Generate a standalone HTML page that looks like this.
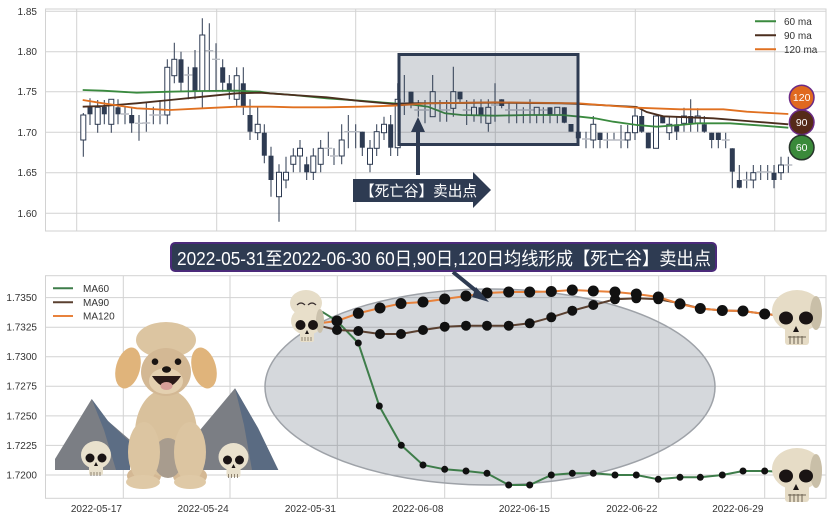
<!DOCTYPE html>
<html><head><meta charset="utf-8"><style>
html,body{margin:0;padding:0;background:#fff;}
svg{display:block;font-family:"Liberation Sans","Noto Sans CJK SC",sans-serif;}
.g{stroke:#d2d2d2;stroke-width:1;fill:none}
.w{stroke:#2e3b52;stroke-width:1;fill:none}
.f{fill:#2e3b52}
.h{fill:#fff;stroke:#2e3b52;stroke-width:1}
.d{stroke:#b8bcc3;stroke-width:1.4}
.t{font-size:10px;fill:#333}
</style></head><body>
<svg width="833" height="521" viewBox="0 0 833 521" xmlns="http://www.w3.org/2000/svg">
<rect width="833" height="521" fill="#fff"/>
<!-- ===== TOP PANEL ===== -->
<g class="g">
<path d="M45.5 11.3H826M45.5 51.7H826M45.5 91.7H826M45.5 132.3H826M45.5 172.7H826M45.5 213.3H826"/>
<path d="M76.7 9V231M216.7 9V231M355.7 9V231M495.3 9V231M635.3 9V231M774.7 9V231"/>
<rect x="45.5" y="9" width="780.5" height="222"/>
</g>
<g class="t" text-anchor="end">
<text x="37" y="14.8">1.85</text><text x="37" y="55.2">1.80</text><text x="37" y="95.2">1.75</text>
<text x="37" y="135.8">1.70</text><text x="37" y="176.2">1.65</text><text x="37" y="216.8">1.60</text>
</g>
<!-- wicks -->
<path class="w" d="M83.3 113V156.7M90 98.3V125M97.7 100V132.7M104.3 100V124.3M111.3 99.3V132.7M118 99.3V124.3M125 106.7V124.3M131.7 108.3V132.7M139 115V140.7M146.3 103V131.7M153.3 106.7V124.3M160 100V124.3M167.3 59.3V124.3M174.3 42.7V83.3M181 51.7V91.7M188.3 66.7V99.3M195 50V99.3M202.3 18.3V108.3M209.3 23.3V91.7M216 43.3V91.7M222.7 59.3V91.7M229.3 75V99.3M236.7 67.3V107.3M243.3 67.3V115M250 99.3V140M257.7 107.3V140M264.3 124.3V163.3M271 146.7V196.7M279 164.3V221.7M286 156.7V188.3M293.3 148.3V172.3M300 140V172.3M306.7 156.7V180M313.3 148.3V180M320.7 140V172.3M328.3 131.7V156M334 148.3V165M341.7 124.3V164.3M348.3 115V148.3M355.7 124.3V148.3M362.3 131.7V156M370 140V172.3M376.7 124.3V156M384 116.7V140M390.7 115V156M397.7 83.3V156M404.3 75V115M411 91.7V108.3M418.3 100V116.7M425 100V123.3M432.7 75V116.7M440 100V121.7M446.7 100V121.7M453.3 66.7V116.7M460 91.7V103.3M466.7 100V125M474 99.3V121.7M481 99.3V123.3M488.3 99.3V131.7M495 83.3V121.7M501.7 99.3V108.3M509 103.3V123.3M516.7 103.3V123.3M523.3 107.3V123.3M530 99.3V123.3M536.7 107.3V123.3M543.3 107.3V123.3M550 107.3V123.3M557.3 107.3V123.3M564.3 107.3V123.3M571 124V131.7M578.3 131.7V138.3M586 131.7V148.3M593.3 116V148.3M600 132.7V148.3M607.3 132.7V148.3M614 132.7V140M621 125V148.3M627.7 125V148.3M635 108.3V140M641.7 107.7V132.7M648.3 132.7V148.3M656 116V148.3M662.7 116V123.3M669.3 116V140M676.7 116V140M684 107.7V131.7M690.7 99.3V131.7M697.7 108.3V131.7M704.3 116V132.7M711.7 132.7V148.3M718.3 132.7V148.3M725.7 132.7V148.3M732.3 148.3V188.3M739.3 165V188.3M746.7 171.7V188.3M753.3 165V188.3M760.7 165V180M767.7 165V180M774 165V188.3M781 156.7V180M788.3 156.7V172.7"/>
<!-- doji -->
<path class="d" d="M121 114h8M135 123.3h8M142.3 123h8M149.3 115h8M156 115h8M184.3 75h8M205.3 50.7h8M212 59.3h8M324.3 148.3h8M330 156h8M344.3 131.7h8M351.7 131.7h8M400.3 103h8M414.3 110h8M421 110h8M436 110h8M442.7 110h8M462.7 110h8M491 105h8M505 110h8M512.7 110h8M519.3 110h8M526 110h8M539.3 110h8M582 139h8M603.3 140h8M610 140h8M617 140h8M721.7 140h8M742.7 180h8M756.7 172h8M763.7 172h8M784.3 165h8"/>
<!-- filled bodies -->
<g class="f">
<rect x="87.5" y="106.7" width="5" height="7.6"/><rect x="101.8" y="106.7" width="5" height="7.6"/><rect x="115.5" y="107.3" width="5" height="7"/><rect x="129.2" y="115" width="5" height="8.3"/><rect x="178.5" y="59.3" width="5" height="23.4"/><rect x="192.5" y="67.3" width="5" height="23.7"/><rect x="220.2" y="67.3" width="5" height="15.4"/><rect x="226.8" y="83.3" width="5" height="7.7"/><rect x="240.8" y="83.3" width="5" height="23.4"/><rect x="247.5" y="115" width="5" height="16.7"/><rect x="261.8" y="132.7" width="5" height="23"/><rect x="268.5" y="155.7" width="5" height="24.3"/><rect x="304.2" y="164.3" width="5" height="8"/><rect x="359.8" y="131.7" width="5" height="16"/><rect x="388.2" y="124.3" width="5" height="23.4"/><rect x="408.5" y="91.7" width="5" height="11.6"/><rect x="457.5" y="91.7" width="5" height="7.6"/><rect x="478.5" y="107.3" width="5" height="7.7"/><rect x="499.2" y="99.3" width="5" height="6.7"/><rect x="547.5" y="107.3" width="5" height="7.7"/><rect x="561.8" y="107.3" width="5" height="15.4"/><rect x="568.5" y="124" width="5" height="7.7"/><rect x="575.8" y="131.7" width="5" height="6.6"/><rect x="597.5" y="132.7" width="5" height="7.3"/><rect x="639.2" y="116" width="5" height="15.7"/><rect x="645.8" y="132.7" width="5" height="15.6"/><rect x="660.2" y="116" width="5" height="7.3"/><rect x="674.2" y="124.3" width="5" height="7.4"/><rect x="688.2" y="116" width="5" height="7.3"/><rect x="701.8" y="124.3" width="5" height="7.4"/><rect x="709.2" y="132.7" width="5" height="7.3"/><rect x="715.8" y="132.7" width="5" height="7.3"/><rect x="729.8" y="148.3" width="5" height="23.4"/><rect x="736.8" y="180" width="5" height="7.7"/><rect x="771.5" y="172.7" width="5" height="7.3"/>
</g>
<!-- hollow bodies -->
<g class="h">
<rect x="80.8" y="115" width="5" height="25"/><rect x="95.2" y="107.3" width="5" height="17"/><rect x="108.8" y="99.3" width="5" height="25"/><rect x="164.8" y="67.3" width="5" height="47.7"/><rect x="171.8" y="59.3" width="5" height="16.4"/><rect x="199.8" y="35" width="5" height="56"/><rect x="234.2" y="75.7" width="5" height="23.6"/><rect x="255.2" y="124.3" width="5" height="8.4"/><rect x="276.5" y="172.3" width="5" height="24.4"/><rect x="283.5" y="172.3" width="5" height="7.7"/><rect x="290.8" y="156" width="5" height="8.3"/><rect x="297.5" y="148.3" width="5" height="7.7"/><rect x="310.8" y="156" width="5" height="16.3"/><rect x="318.2" y="148.3" width="5" height="16"/><rect x="339.2" y="140" width="5" height="16"/><rect x="367.5" y="148.3" width="5" height="16"/><rect x="374.2" y="131.7" width="5" height="16.6"/><rect x="381.5" y="124.3" width="5" height="8.4"/><rect x="395.2" y="99.3" width="5" height="48.4"/><rect x="430.2" y="91.7" width="5" height="25"/><rect x="450.8" y="91.7" width="5" height="16.6"/><rect x="471.5" y="107.3" width="5" height="7.7"/><rect x="485.8" y="107.3" width="5" height="16"/><rect x="534.2" y="107.3" width="5" height="7.7"/><rect x="554.8" y="107.3" width="5" height="7.7"/><rect x="590.8" y="124.3" width="5" height="15.7"/><rect x="625.2" y="132.7" width="5" height="7.3"/><rect x="632.5" y="116" width="5" height="16.7"/><rect x="653.5" y="116" width="5" height="32.3"/><rect x="666.8" y="124.3" width="5" height="8.4"/><rect x="681.5" y="116" width="5" height="7.3"/><rect x="695.2" y="116" width="5" height="7.3"/><rect x="750.8" y="172.7" width="5" height="7.3"/><rect x="778.5" y="165" width="5" height="7.7"/>
</g>
<!-- MA lines top -->
<polyline fill="none" stroke="#3a8a3f" stroke-width="1.8" points="82.7,90 103,90.7 136.7,92.7 170,91.7 203,91 236.7,90.7 260,91.7 270,93.3 293,95 326.7,98.3 360,100.7 393,103.3 415,105 428,106.7 445,113.3 461.7,115 495,115.7 528,115 561.7,115 580,116.7 595,118.3 613.3,121.7 636.7,125 656.7,126.7 680,125 696.7,123.3 730,123.3 763.3,125.7 788.3,127.7"/>
<polyline fill="none" stroke="#4b2e1e" stroke-width="1.8" points="82.7,106.7 103,106 136.7,103.3 170,100 203,96.7 236.7,93.3 260,92.7 293,95 326.7,97.3 360,101 393.3,104 411.7,103.3 495,102.7 561.7,103.3 580,104 636.7,107 646.7,112 663.3,116.3 713.3,118.3 746.7,121 788.3,124.3"/>
<polyline fill="none" stroke="#e07020" stroke-width="1.8" points="82.7,100 103,103.3 136.7,108.3 170,110 203,108.3 236.7,106.7 270,106.7 293,107.3 326.7,107.3 360,106.7 393.3,105.7 428,103.3 495,102.3 578,103.3 636.7,107.7 680,109.3 723.3,109.3 746.7,111.7 788.3,114"/>
<!-- highlight box -->
<rect x="399" y="54.5" width="179" height="90" fill="rgba(46,59,82,0.2)" stroke="#2e3b52" stroke-width="3"/>
<!-- up arrow -->
<rect x="416" y="128" width="4" height="47" fill="#2e3b52"/>
<polygon points="411,132 418,117 425,132" fill="#2e3b52"/>
<!-- label arrow -->
<polygon points="353,179 473,179 473,172 491,190 473,208 473,202 353,202" fill="#2e3b52"/>
<text x="360" y="196" font-size="15" fill="#fff" textLength="117" lengthAdjust="spacingAndGlyphs">【死亡谷】卖出点</text>
<!-- top legend -->
<g stroke-width="2">
<line x1="755" y1="21.3" x2="776" y2="21.3" stroke="#3a8a3f"/>
<line x1="755" y1="35.3" x2="776" y2="35.3" stroke="#4b2e1e"/>
<line x1="755" y1="49.3" x2="776" y2="49.3" stroke="#e07020"/>
</g>
<g class="t" fill="#222"><text x="784" y="24.8">60 ma</text><text x="784" y="38.8">90 ma</text><text x="784" y="52.8">120 ma</text></g>
<!-- circles -->
<circle cx="801.7" cy="97.5" r="12.3" fill="#e0691f" stroke="#6b2a86" stroke-width="1.5"/>
<circle cx="801.7" cy="122.3" r="12.3" fill="#552a18" stroke="#6b2a86" stroke-width="1.5"/>
<circle cx="801.7" cy="147.5" r="12.3" fill="#3a8a3a" stroke="#26342a" stroke-width="1.5"/>
<g font-size="10.5" fill="#fff" text-anchor="middle">
<text x="801.7" y="101.2">120</text><text x="801.7" y="126">90</text><text x="801.7" y="151.2">60</text>
</g>

<!-- ===== BOTTOM PANEL ===== -->
<g class="g">
<path d="M45.5 297.6H826M45.5 327.2H826M45.5 356.8H826M45.5 386.3H826M45.5 415.9H826M45.5 445.4H826M45.5 475H826"/>
<path d="M123.3 275.7V498.3M230 275.7V498.3M337.3 275.7V498.3M444.7 275.7V498.3M551.3 275.7V498.3M658.7 275.7V498.3M764.7 275.7V498.3"/>
<rect x="45.5" y="275.7" width="780.5" height="222.6"/>
</g>
<g class="t" font-size="9.6" text-anchor="end">
<text x="37" y="301">1.7350</text><text x="37" y="330.6">1.7325</text><text x="37" y="360.2">1.7300</text><text x="37" y="389.7">1.7275</text><text x="37" y="419.3">1.7250</text><text x="37" y="448.8">1.7225</text><text x="37" y="478.4">1.7200</text>
</g>
<g class="t" text-anchor="end">
<text x="122" y="512">2022-05-17</text><text x="228.7" y="512">2022-05-24</text><text x="336" y="512">2022-05-31</text><text x="443.4" y="512">2022-06-08</text><text x="550" y="512">2022-06-15</text><text x="657.4" y="512">2022-06-22</text><text x="763.4" y="512">2022-06-29</text>
</g>
<!-- ellipse -->
<ellipse cx="490" cy="387" rx="225" ry="98" fill="rgba(46,59,82,0.2)" stroke="#9ea2a8" stroke-width="1.5"/>
<!-- MA lines bottom -->
<polyline fill="none" stroke="#3e7d4a" stroke-width="2" points="322,311.7 337,321 358.3,343 379.3,406 401.3,445.3 423,465 444.7,469.3 466,471 487,473.3 508.7,485 529.7,485 551.3,475 572.3,473.3 593.3,473.3 615,475 636.3,475 658.3,479.3 680,477.3 700.3,477.3 722.3,475 743,471 764.7,471 786,472"/>
<polyline fill="none" stroke="#5a4030" stroke-width="2" points="323.3,326.7 337,330 358.3,331 380,334 401,334 423,330 444.7,326.7 466,325.7 487,325.7 508.7,325.7 529.7,323.3 551.3,317.3 572.3,310.7 593.3,305 615,299.3 636.3,298.3 658.3,299.3 680,303.3 700.3,308.5 722.3,310.5 743,311 764.7,314 786,316"/>
<polyline fill="none" stroke="#e8823c" stroke-width="2" points="323.3,322.7 337,321 358.3,313.3 380,308 401,303.5 423,302 444.7,299 466,296 487,293 508.7,292 529.7,292 551.3,291.5 572.3,290 593.3,291 615,292 636.3,294 658.3,297 680,304 700.3,308.5 722.3,310.5 743,311 764.7,314 786,316"/>
<g fill="#111">
<!-- green dots -->
<circle cx="337" cy="321" r="3.5"/><circle cx="358.3" cy="343" r="3.5"/><circle cx="379.3" cy="406" r="3.5"/><circle cx="401.3" cy="445.3" r="3.5"/><circle cx="423" cy="465" r="3.5"/><circle cx="444.7" cy="469.3" r="3.5"/><circle cx="466" cy="471" r="3.5"/><circle cx="487" cy="473.3" r="3.5"/><circle cx="508.7" cy="485" r="3.5"/><circle cx="529.7" cy="485" r="3.5"/><circle cx="551.3" cy="475" r="3.5"/><circle cx="572.3" cy="473.3" r="3.5"/><circle cx="593.3" cy="473.3" r="3.5"/><circle cx="615" cy="475" r="3.5"/><circle cx="636.3" cy="475" r="3.5"/><circle cx="658.3" cy="479.3" r="3.5"/><circle cx="680" cy="477.3" r="3.5"/><circle cx="700.3" cy="477.3" r="3.5"/><circle cx="722.3" cy="475" r="3.5"/><circle cx="743" cy="471" r="3.5"/><circle cx="764.7" cy="471" r="3.5"/>
<!-- brown dots -->
<circle cx="337" cy="330" r="5"/><circle cx="358.3" cy="331" r="5"/><circle cx="380" cy="334" r="5"/><circle cx="401" cy="334" r="5"/><circle cx="423" cy="330" r="5"/><circle cx="444.7" cy="326.7" r="5"/><circle cx="466" cy="325.7" r="5"/><circle cx="487" cy="325.7" r="5"/><circle cx="508.7" cy="325.7" r="5"/><circle cx="529.7" cy="323.3" r="5"/><circle cx="551.3" cy="317.3" r="5"/><circle cx="572.3" cy="310.7" r="5"/><circle cx="593.3" cy="305" r="5"/><circle cx="615" cy="299.3" r="5"/><circle cx="636.3" cy="298.3" r="5"/><circle cx="658.3" cy="299.3" r="5"/><circle cx="680" cy="303.3" r="5"/>
<!-- orange dots -->
<circle cx="337" cy="321" r="5.5"/><circle cx="358.3" cy="313.3" r="5.5"/><circle cx="380" cy="308" r="5.5"/><circle cx="401" cy="303.5" r="5.5"/><circle cx="423" cy="302" r="5.5"/><circle cx="444.7" cy="299" r="5.5"/><circle cx="466" cy="296" r="5.5"/><circle cx="487" cy="293" r="5.5"/><circle cx="508.7" cy="292" r="5.5"/><circle cx="529.7" cy="292" r="5.5"/><circle cx="551.3" cy="291.5" r="5.5"/><circle cx="572.3" cy="290" r="5.5"/><circle cx="593.3" cy="291" r="5.5"/><circle cx="615" cy="292" r="5.5"/><circle cx="636.3" cy="294" r="5.5"/><circle cx="658.3" cy="297" r="5.5"/><circle cx="680" cy="304" r="5.5"/><circle cx="700.3" cy="308.5" r="5.5"/><circle cx="722.3" cy="310.5" r="5.5"/><circle cx="743" cy="311" r="5.5"/><circle cx="764.7" cy="314" r="5.5"/>
</g>
<!-- bottom legend -->
<g stroke-width="2">
<line x1="53" y1="288.3" x2="73" y2="288.3" stroke="#3e7d4a"/>
<line x1="53" y1="302.3" x2="73" y2="302.3" stroke="#5a4030"/>
<line x1="53" y1="316" x2="73" y2="316" stroke="#e8823c"/>
</g>
<g class="t" fill="#222"><text x="83" y="291.8">MA60</text><text x="83" y="305.8">MA90</text><text x="83" y="319.5">MA120</text></g>

<!-- mountains -->
<polygon points="55,470 55,459 91.7,399 108,421 130,440 130,470" fill="#7b7e84"/>
<polygon points="91.7,399 108,421 130,442 130,470 116,470 104,430" fill="#5c6d84"/>
<polygon points="196.7,434 235,388.3 258,428 278.3,470 196.7,470" fill="#7b7e84"/>
<polygon points="235,388.3 258,428 278.3,470 252,470 244,425" fill="#5a6b82"/>

<!-- small skulls -->
<g>
<ellipse cx="96" cy="455" rx="15" ry="14" fill="#e9e1cd"/>
<rect x="89" y="462" width="14" height="13" rx="2" fill="#e9e1cd"/>
<circle cx="90" cy="458" r="4.5" fill="#1a1414"/><circle cx="102" cy="458" r="4.5" fill="#1a1414"/>
<polygon points="96,462 94,466 98,466" fill="#1a1414"/>
<path d="M91 472V476M94 472V476M97 472V476M100 472V476" stroke="#7a6e5c" stroke-width="0.8"/>
<ellipse cx="233.5" cy="457" rx="15" ry="14" fill="#e9e1cd"/>
<rect x="226.5" y="464" width="14" height="13" rx="2" fill="#e9e1cd"/>
<circle cx="227.5" cy="460" r="4.5" fill="#1a1414"/><circle cx="239.5" cy="460" r="4.5" fill="#1a1414"/>
<polygon points="233.5,464 231.5,468 235.5,468" fill="#1a1414"/>
<path d="M228.5 474V478M231.5 474V478M234.5 474V478M237.5 474V478" stroke="#7a6e5c" stroke-width="0.8"/>
</g>

<!-- dog -->
<g>
<ellipse cx="144" cy="476" rx="17" ry="10" fill="#d4b894"/>
<ellipse cx="190" cy="476" rx="17" ry="10" fill="#d4b894"/>
<ellipse cx="166" cy="433" rx="31" ry="44" fill="#d9c19c"/>
<ellipse cx="168" cy="458" rx="15" ry="20" fill="#a89c8e"/>
<ellipse cx="144" cy="452" rx="16" ry="30" fill="#dcc5a1"/>
<ellipse cx="190" cy="452" rx="16" ry="30" fill="#dcc5a1"/>
<ellipse cx="143" cy="482" rx="17" ry="7" fill="#dfc9a6"/>
<ellipse cx="190" cy="482" rx="16" ry="7" fill="#dfc9a6"/>
<ellipse cx="128" cy="368" rx="12" ry="21" fill="#e0b47b" transform="rotate(15 128 368)"/>
<ellipse cx="204" cy="368" rx="12" ry="21" fill="#e0b47b" transform="rotate(-15 204 368)"/>
<ellipse cx="166" cy="340" rx="30" ry="18" fill="#dcc5a1"/>
<ellipse cx="166" cy="372" rx="25" ry="24" fill="#d3b894"/>
<ellipse cx="166" cy="381" rx="17" ry="13" fill="#e4d0b0"/>
<circle cx="155" cy="361.7" r="3.3" fill="#1a1412"/>
<circle cx="178" cy="361.7" r="3.3" fill="#1a1412"/>
<ellipse cx="166.5" cy="369.5" rx="4.5" ry="3.2" fill="#1a1412"/>
<path d="M152 376 Q166.5 398 181 376 Z" fill="#2a1a18"/>
<ellipse cx="166.5" cy="386" rx="6" ry="4" fill="#d79e98"/>
</g>

<!-- skulls at line starts -->
<g>
<ellipse cx="306" cy="303" rx="16" ry="13" fill="#e6ddc8"/>
<path d="M297 305 q4 -4 8 0 M308 305 q4 -4 8 0" stroke="#3a3030" stroke-width="1.2" fill="none"/>
<ellipse cx="307" cy="321" rx="16" ry="14" fill="#e8dfca"/>
<ellipse cx="320" cy="321" rx="4" ry="12" fill="#cbc2ad"/>
<rect x="300" y="329" width="14" height="13" rx="2" fill="#e8dfca"/>
<circle cx="300.5" cy="325" r="5" fill="#1a1414"/><circle cx="313" cy="325" r="5" fill="#1a1414"/>
<polygon points="307,330 305,334 309,334" fill="#1a1414"/>
<path d="M302 337V341M305 337V341M308 337V341M311 337V341" stroke="#7a6e5c" stroke-width="0.8"/>
</g>
<g>
<ellipse cx="797" cy="311" rx="25" ry="21" fill="#e6dcc6"/>
<ellipse cx="816" cy="313" rx="6" ry="17" fill="#c9bfa8"/>
<rect x="785" y="324" width="24" height="21" rx="3" fill="#e6dcc6"/>
<ellipse cx="786" cy="318" rx="7" ry="6.5" fill="#1a1414"/><ellipse cx="806" cy="318" rx="7" ry="6.5" fill="#1a1414"/>
<polygon points="796,326 793,332 799,332" fill="#1a1414"/>
<path d="M788 337H806M790 336V344M794 336V344M798 336V344M802 336V344" stroke="#6e6454" stroke-width="1"/>
</g>
<g>
<ellipse cx="797" cy="469" rx="25" ry="21" fill="#e6dcc6"/>
<ellipse cx="816" cy="471" rx="6" ry="17" fill="#c9bfa8"/>
<rect x="785" y="482" width="24" height="20" rx="3" fill="#e6dcc6"/>
<ellipse cx="786" cy="476" rx="7" ry="6.5" fill="#1a1414"/><ellipse cx="806" cy="476" rx="7" ry="6.5" fill="#1a1414"/>
<polygon points="796,484 793,490 799,490" fill="#1a1414"/>
<path d="M788 495H806M790 494V502M794 494V502M798 494V502M802 494V502" stroke="#6e6454" stroke-width="1"/>
</g>

<!-- title box -->
<rect x="171" y="243" width="545" height="28" rx="4" fill="#2e3b52" stroke="#4b2a7a" stroke-width="2"/>
<text x="177" y="265" font-size="18" fill="#fff" textLength="534" lengthAdjust="spacingAndGlyphs">2022-05-31至2022-06-30 60日,90日,120日均线形成【死亡谷】卖出点</text>
<!-- title arrow -->
<line x1="453" y1="272" x2="480" y2="294" stroke="#2e3b52" stroke-width="4"/>
<polygon points="476,287 489,302 472,297" fill="#2e3b52"/>
</svg>
</body></html>
